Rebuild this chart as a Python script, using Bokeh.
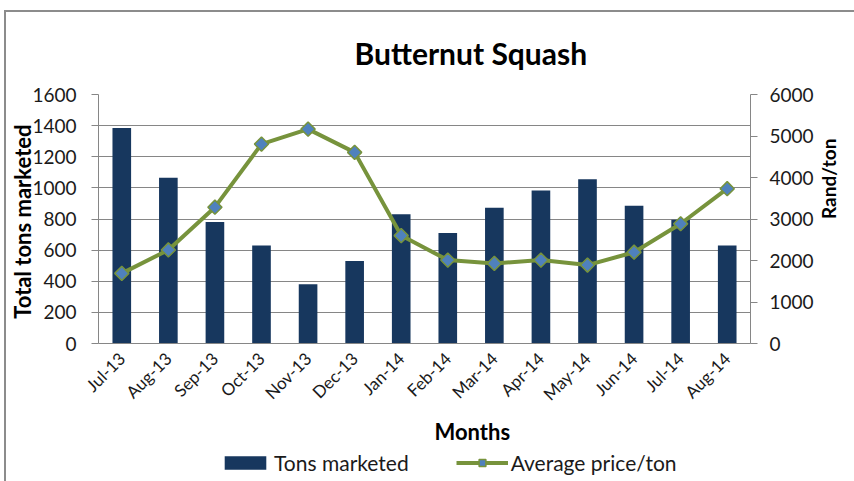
import math
from bokeh.plotting import figure
from bokeh.layouts import column
from bokeh.models import (ColumnDataSource, FactorRange, Range1d, LinearAxis, FixedTicker,
                          Title, Legend, LegendItem)
from bokeh.embed import file_html
from bokeh.resources import INLINE

months = ["Jul-13", "Aug-13", "Sep-13", "Oct-13", "Nov-13", "Dec-13", "Jan-14",
          "Feb-14", "Mar-14", "Apr-14", "May-14", "Jun-14", "Jul-14", "Aug-14"]
tons_marketed = [1385, 1065, 780, 630, 380, 530, 830, 710, 872, 983, 1055, 885, 795, 630]
avg_price = [1690, 2255, 3285, 4805, 5165, 4605, 2600, 2010, 1930, 2010, 1890, 2200, 2885, 3730]
left_ticks = [0, 200, 400, 600, 800, 1000, 1200, 1400, 1600]
right_ticks = [0, 1000, 2000, 3000, 4000, 5000, 6000]

FONT = "Lato"
BAR = "#17375E"
GREEN = "#77933C"
BLUE = "#4F81BD"
GRID = "#868686"
TXT = "#1a1a1a"

src = ColumnDataSource(dict(month=months, tons=tons_marketed, price=avg_price))

p = figure(width=848, height=433, output_backend="svg", toolbar_location=None,
           x_range=FactorRange(*months), y_range=Range1d(0, 1600),
           min_border_left=91, min_border_right=100, min_border_top=82, min_border_bottom=100)
p.extra_y_ranges = {"price": Range1d(0, 6000)}
p.outline_line_color = None
p.background_fill_color = "white"
p.border_fill_color = "white"

bars = p.vbar(x="month", top="tons", width=0.4, source=src, fill_color=BAR, line_color=None)
ln = p.line(x="month", y="price", source=src, y_range_name="price", line_color=GREEN, line_width=4)
pts = p.scatter(x="month", y="price", source=src, y_range_name="price", marker="square",
                angle=math.pi / 4, size=10, fill_color=BLUE, line_color=GREEN, line_width=1.5)

# main title
p.title.text = "Butternut Squash"
p.title.align = "left"
p.title.offset = 256
p.title.vertical_align = "top"
p.title.text_font = FONT
p.title.text_font_style = "bold"
p.title.text_font_size = "30px"
p.title.text_color = "black"
p.title.standoff = 44

# left axis
ya = p.yaxis[0]
ya.ticker = FixedTicker(ticks=left_ticks)
ya.axis_line_color = GRID
ya.major_tick_line_color = GRID
ya.major_tick_out = 7
ya.major_tick_in = 0
ya.minor_tick_line_color = None
ya.major_label_text_font = FONT
ya.major_label_text_font_size = "19px"
ya.major_label_text_color = TXT
ya.major_label_standoff = 15
ya.axis_label = "Total  tons marketed"
ya.axis_label_text_font = FONT
ya.axis_label_text_font_style = "bold"
ya.axis_label_text_font_size = "22px"
ya.axis_label_text_color = "black"
ya.axis_label_standoff = -7

p.ygrid.ticker = FixedTicker(ticks=left_ticks)
p.ygrid.grid_line_color = GRID
p.xgrid.grid_line_color = None

# right axis
ra = LinearAxis(y_range_name="price", ticker=FixedTicker(ticks=right_ticks))
ra.axis_line_color = GRID
ra.major_tick_line_color = GRID
ra.major_tick_out = 7
ra.major_tick_in = 0
ra.minor_tick_line_color = None
ra.major_label_text_font = FONT
ra.major_label_text_font_size = "19px"
ra.major_label_text_color = TXT
ra.major_label_standoff = 12
ra.axis_label = "Rand/ton"
ra.axis_label_text_font = FONT
ra.axis_label_text_font_style = "bold"
ra.axis_label_text_font_size = "19px"
ra.axis_label_text_color = "black"
ra.axis_label_standoff = 12
ra.axis_label_orientation = math.pi / 2
ra.axis_label_text_align = "center"
p.add_layout(ra, "right")

# x axis
xa = p.xaxis[0]
xa.axis_line_color = GRID
xa.major_tick_line_color = None
xa.major_label_orientation = math.pi / 4
xa.major_label_text_font = FONT
xa.major_label_text_font_size = "17px"
xa.major_label_text_color = TXT
xa.major_label_standoff = 6

p.add_layout(Title(text="Months", align="left", offset=336,
                   text_font=FONT, text_font_style="bold", text_font_size="22px",
                   text_color="black", standoff=2), "below")

# legend strip (same data, drawn far outside its visible range so only the legend shows)
lf = figure(width=848, height=36, output_backend="svg", toolbar_location=None,
            x_range=FactorRange(*months), y_range=Range1d(1000000, 1000010),
            x_axis_location=None, y_axis_location=None,
            min_border_left=0, min_border_right=0, min_border_top=0, min_border_bottom=0)
lf.outline_line_color = None
lf.grid.grid_line_color = None
lbars = lf.vbar(x="month", top="tons", width=0.4, source=src, fill_color=BAR, line_color=None)
lln = lf.line(x="month", y="price", source=src, line_color=GREEN, line_width=4)
lpts = lf.scatter(x="month", y="price", source=src, marker="square", angle=math.pi / 4,
                  size=10, fill_color=BLUE, line_color=GREEN, line_width=1.5)
legend = Legend(items=[LegendItem(label="Tons marketed", renderers=[lbars]),
                       LegendItem(label="Average price/ton", renderers=[lln, lpts])],
                location=(121, 6), orientation="horizontal",
                padding=0, margin=0, spacing=47, label_standoff=3,
                glyph_width=52, glyph_height=17,
                label_text_font=FONT, label_text_font_size="21px", label_text_color=TXT,
                border_line_color=None, background_fill_alpha=0)
lf.add_layout(legend, "center")

layout = column(p, lf, spacing=0)
layout.margin = (10, 0, 0, 4)
layout.styles = {"border-top": "2px solid #8c8c8c", "border-left": "2px solid #8c8c8c"}

open("out.html", "w").write(file_html(layout, INLINE))
